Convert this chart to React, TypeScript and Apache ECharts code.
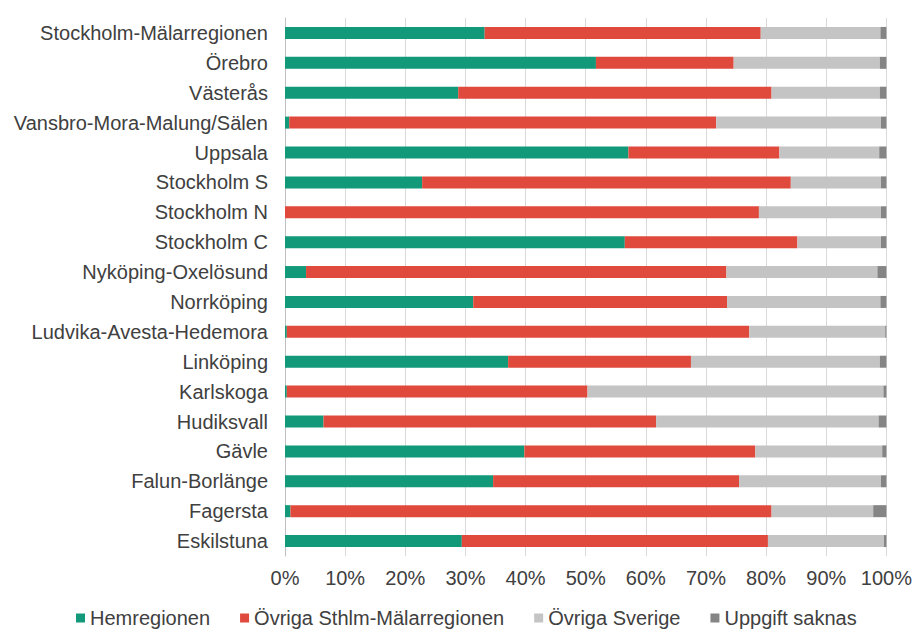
import React, { useEffect, useRef } from "react";
import * as echarts from "echarts";

const categories = [
  "Stockholm-Mälarregionen",
  "Örebro",
  "Västerås",
  "Vansbro-Mora-Malung/Sälen",
  "Uppsala",
  "Stockholm S",
  "Stockholm N",
  "Stockholm C",
  "Nyköping-Oxelösund",
  "Norrköping",
  "Ludvika-Avesta-Hedemora",
  "Linköping",
  "Karlskoga",
  "Hudiksvall",
  "Gävle",
  "Falun-Borlänge",
  "Fagersta",
  "Eskilstuna",
];

const hemregionen = [33.2, 51.7, 28.8, 0.7, 57.1, 22.8, 0, 56.5, 3.5, 31.3, 0.3, 37.1, 0.3, 6.4, 39.8, 34.6, 0.9, 29.4];
const ovrigaSthlm = [45.9, 22.9, 52.1, 71.0, 25.1, 61.3, 78.8, 28.7, 69.9, 42.2, 76.9, 30.4, 50.0, 55.3, 38.4, 40.9, 80.0, 50.9];
const ovrigaSverige = [19.9, 24.3, 18.0, 27.4, 16.6, 15.0, 20.3, 13.9, 25.1, 25.5, 22.6, 31.4, 49.2, 37.0, 21.1, 23.6, 16.9, 19.3];
const uppgiftSaknas = [1.0, 1.1, 1.1, 0.9, 1.2, 0.9, 0.9, 0.9, 1.5, 1.0, 0.2, 1.1, 0.5, 1.3, 0.7, 0.9, 2.2, 0.4];

const seriesNames = ["Hemregionen", "Övriga Sthlm-Mälarregionen", "Övriga Sverige", "Uppgift saknas"];
const seriesColors = ["#12997a", "#e04a3d", "#c4c4c4", "#858585"];

const FONT = "'Liberation Sans', Arial, Helvetica, sans-serif";

export default function App() {
  const ref = useRef<HTMLDivElement>(null);
  useEffect(() => {
    if (!ref.current) return;
    const chart = echarts.init(ref.current, null, { renderer: "svg" });
    const datasets = [hemregionen, ovrigaSthlm, ovrigaSverige, uppgiftSaknas];
    chart.setOption({
      animation: false,
      backgroundColor: "#ffffff",
      textStyle: { fontFamily: FONT },
      grid: { left: 285, right: 25, top: 18, bottom: 76, containLabel: false },
      legend: {
        data: seriesNames,
        left: 76,
        top: 608,
        padding: 0,
        itemWidth: 9,
        itemHeight: 9,
        itemGap: 30,
        icon: "rect",
        textStyle: { fontSize: 20, color: "#404040", fontFamily: FONT },
      },
      xAxis: {
        type: "value",
        min: 0,
        max: 100,
        interval: 10,
        axisLine: { show: false },
        axisTick: { show: false },
        splitLine: { show: true, lineStyle: { color: "#d9d9d9", width: 1 } },
        axisLabel: {
          formatter: "{value}%",
          fontSize: 20,
          color: "#404040",
          margin: 12,
          fontFamily: FONT,
        },
      },
      yAxis: {
        type: "category",
        inverse: true,
        data: categories,
        axisLine: { show: true, lineStyle: { color: "#bfbfbf", width: 1 } },
        axisTick: { show: false },
        axisLabel: { fontSize: 20, color: "#404040", margin: 17, fontFamily: FONT },
      },
      series: seriesNames.map((name, i) => ({
        name,
        type: "bar",
        stack: "total",
        barWidth: 12,
        itemStyle: { color: seriesColors[i] },
        data: datasets[i],
      })),
    });
    return () => chart.dispose();
  }, []);
  return (
    <div
      ref={ref}
      style={{ position: "fixed", left: 0, top: 0, width: 915, height: 632, background: "#fff" }}
    />
  );
}
